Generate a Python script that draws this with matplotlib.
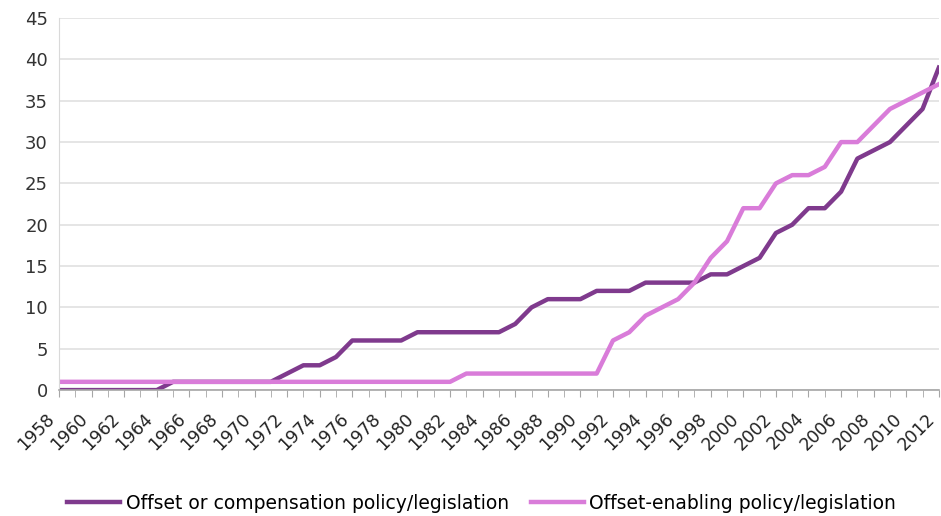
import numpy as np
import matplotlib
matplotlib.use('Agg')
import matplotlib.pyplot as plt
import matplotlib.transforms as mtransforms

# data
years = list(range(1958, 2013))
offset_comp = [0, 0, 0, 0, 0, 0, 0,            # 1958-1964
               1, 1, 1, 1, 1, 1, 1,            # 1965-1971
               2, 3, 3, 4, 6, 6, 6, 6,         # 1972-1979
               7, 7, 7, 7, 7, 7,               # 1980-1985
               8, 10, 11, 11, 11,              # 1986-1990
               12, 12, 12, 13, 13, 13, 13,     # 1991-1997
               14, 14, 15, 16, 19, 20, 22, 22, # 1998-2005
               24, 28, 29, 30, 32, 34, 39]     # 2006-2012
offset_enab = [1] * 25 + \
              [2, 2, 2, 2, 2, 2, 2, 2, 2] + \
              [6, 7, 9, 10, 11, 13, 16, 18, 22, 22, 25, 26, 26, 27,
               30, 30, 32, 34, 35, 36, 37]
series_names = ['Offset or compensation policy/legislation',
                'Offset-enabling policy/legislation']
year_labels = [str(y) for y in years[::2]]

dark = '#7f3a8d'
light = '#d97cd9'

fig = plt.figure(figsize=(9.41, 5.16), dpi=100)
ax = fig.add_axes([0.0627, 0.244, 0.935, 0.721])

ax.plot(years, offset_comp, color=dark, lw=3.2, label=series_names[0], solid_joinstyle='round')
ax.plot(years, offset_enab, color=light, lw=3.2, label=series_names[1], solid_joinstyle='round')

ax.set_xlim(1958, 2012)
ax.set_ylim(0, 45)
ax.set_yticks(np.arange(0, 46, 5))
ax.set_xticks(years[::2])
ax.set_xticklabels(year_labels, rotation=45, ha='right', va='top', rotation_mode='anchor')
ax.set_xticks(years, minor=True)
ax.grid(axis='y', color='#e0e0e0', lw=1.2)
ax.set_axisbelow(True)

for s in ['top', 'right']:
    ax.spines[s].set_visible(False)
ax.spines['left'].set_color('#d9d9d9')
ax.spines['bottom'].set_color('#a6a6a6')
ax.spines['bottom'].set_linewidth(1.2)
ax.tick_params(axis='y', length=0, labelsize=13, pad=8, labelcolor='#333333')
ax.tick_params(axis='x', which='both', length=5, color='#a6a6a6', direction='out')
ax.tick_params(axis='x', labelsize=12.5, pad=9, labelcolor='#222222')

# nudge the rotated year labels left so the last one stays inside
shift = mtransforms.ScaledTranslation(-9.5 / 72, 0, fig.dpi_scale_trans)
for lbl in ax.get_xticklabels():
    lbl.set_transform(lbl.get_transform() + shift)

fig.legend(loc='center', bbox_to_anchor=(0.512, 0.025), ncol=2, frameon=False,
           fontsize=13.5, handlelength=2.8, columnspacing=1.2, handletextpad=0.3)

fig.savefig('out.png', dpi=100)
